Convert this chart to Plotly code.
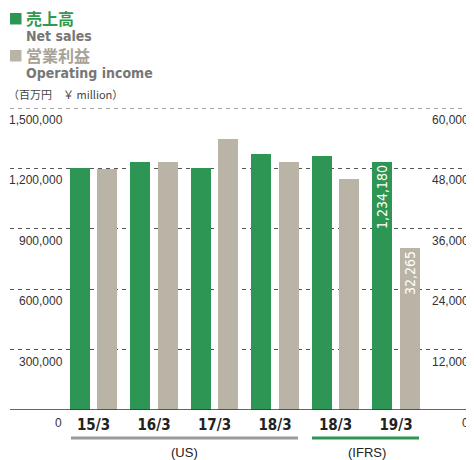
import plotly.graph_objects as go

# data
periods = ["15/3", "16/3", "17/3", "18/3", "18/3", "19/3"]
net_sales = [1200500, 1230000, 1202000, 1271500, 1260000, 1234180]
operating_income = [47800, 49200, 53800, 49200, 45800, 32265]
left_ticks = [300000, 600000, 900000, 1200000, 1500000]
right_ticks = [12000, 24000, 36000, 48000, 60000]

GREEN = "#2e9654"
GRAY = "#bab4a7"
COND = "DejaVu Sans Condensed"

# page has an 8px body margin; positions below are in screen pixels
OFF = 8
W, H = 474 - OFF, 460 - OFF
L, R, T, B = 10 - OFF, 0, 108 - OFF, 50
PW, PH = W - L - R, H - T - B


def px(x):
    return (x - OFF - L) / PW


def py(y):
    return (H - B - (y - OFF)) / PH


x = list(range(len(periods)))
last = len(periods) - 1
unit = 60.5          # screen px per category
c0 = 93.5            # screen x of first category centre

fig = go.Figure()
fig.add_trace(go.Bar(
    x=x, y=net_sales, yaxis="y", marker=dict(color=GREEN, line=dict(width=0)),
    width=0.33, offset=-0.39,
    text=[f"{v:,}" if i == last else "" for i, v in enumerate(net_sales)],
    textposition="inside", insidetextanchor="end", textangle=-90,
    constraintext="none",
    textfont=dict(family=COND, size=14, color="white"),
    hoverinfo="skip", showlegend=False,
))
fig.add_trace(go.Bar(
    x=x, y=operating_income, yaxis="y2", marker=dict(color=GRAY, line=dict(width=0)),
    width=0.33, offset=0.06,
    text=[f"{v:,}" if i == last else "" for i, v in enumerate(operating_income)],
    textposition="inside", insidetextanchor="end", textangle=-90,
    constraintext="none",
    textfont=dict(family=COND, size=14, color="white"),
    hoverinfo="skip", showlegend=False,
))

ann = []
for v in left_ticks:
    ann.append(dict(x=px(65), xref="paper", xanchor="right", y=v, yref="y",
                    yanchor="middle", yshift=-12, text=f"{v:,}", showarrow=False,
                    font=dict(family="Liberation Sans", size=12, color="#333")))
for v in right_ticks:
    ann.append(dict(x=px(471), xref="paper", xanchor="right", y=v, yref="y2",
                    yanchor="middle", yshift=-12, text=f"{v:,}", showarrow=False,
                    font=dict(family="Liberation Sans", size=12, color="#333")))
for xx in (64, 471):
    ann.append(dict(x=px(xx), xref="paper", xanchor="right", y=py(423), yref="paper",
                    yanchor="middle", text="0", showarrow=False,
                    font=dict(family="Liberation Sans", size=12, color="#333")))

# accounting standard labels
ann.append(dict(x=px(184), xref="paper", xanchor="center", y=py(452), yref="paper",
                yanchor="middle", text="(US)", showarrow=False,
                font=dict(family="Liberation Sans", size=13, color="#222")))
ann.append(dict(x=px(367), xref="paper", xanchor="center", y=py(452), yref="paper",
                yanchor="middle", text="(IFRS)", showarrow=False,
                font=dict(family="Liberation Sans", size=13, color="#222")))

# legend
legend_items = [
    (18, "<b>売上高</b>", "Noto Sans CJK JP", 16, "#2e9a50"),
    (36, "<b>Net sales</b>", COND, 14, "#777"),
    (55, "<b>営業利益</b>", "Noto Sans CJK JP", 16, "#a8a295"),
    (73, "<b>Operating income</b>", COND, 14, "#777"),
]
for yy, txt, fam, size, col in legend_items:
    ann.append(dict(x=px(24), xref="paper", xanchor="left", y=py(yy), yref="paper",
                    yanchor="middle", text=txt, showarrow=False,
                    font=dict(family=fam, size=size, color=col)))
ann.append(dict(x=px(6), xref="paper", xanchor="left", y=py(94), yref="paper",
                yanchor="middle", text="（百万円　￥ million）", showarrow=False,
                font=dict(family="Noto Sans CJK JP", size=11, color="#444")))

shapes = [
    dict(type="rect", xref="paper", yref="paper", x0=px(10), x1=px(21.5),
         y0=py(13), y1=py(24.5), fillcolor=GREEN, line=dict(width=0)),
    dict(type="rect", xref="paper", yref="paper", x0=px(10), x1=px(21.5),
         y0=py(50), y1=py(61.5), fillcolor=GRAY, line=dict(width=0)),
    # top gridline (plotly skips the one on the range edge)
    dict(type="line", xref="paper", yref="y", x0=0, x1=1, y0=left_ticks[-1], y1=left_ticks[-1],
         line=dict(color="#555", width=1, dash="4px,4px"), layer="below"),
    # baseline
    dict(type="line", xref="paper", yref="y", x0=0, x1=1, y0=0, y1=0,
         line=dict(color="#333", width=1.5)),
    # standard underlines
    dict(type="line", xref="paper", yref="paper", x0=px(71), x1=px(298), y0=py(438), y1=py(438),
         line=dict(color="#9a9a9a", width=3)),
    dict(type="line", xref="paper", yref="paper", x0=px(312), x1=px(419), y0=py(438), y1=py(438),
         line=dict(color=GREEN, width=3)),
]

fig.update_layout(
    width=W, height=H,
    margin=dict(l=L, r=R, t=T, b=B),
    paper_bgcolor="white", plot_bgcolor="white",
    bargap=0,
    xaxis=dict(range=[(10 - c0) / unit, (474 - c0) / unit], tickvals=x,
               ticktext=[f"<b>{p}</b>" for p in periods],
               showgrid=False, zeroline=False, showline=False, ticks="",
               ticklabelstandoff=4,
               tickfont=dict(family=COND, size=15, color="#222"), fixedrange=True),
    yaxis=dict(range=[0, 1500000], tickvals=left_ticks, showticklabels=False,
               showgrid=True, gridcolor="#555", gridwidth=1, griddash="4px,4px",
               zeroline=False, showline=False, fixedrange=True),
    yaxis2=dict(range=[0, 60000], overlaying="y", side="right", showticklabels=False,
                showgrid=False, zeroline=False, showline=False, fixedrange=True),
    annotations=ann,
    shapes=shapes,
)

fig.write_html("out.html")
